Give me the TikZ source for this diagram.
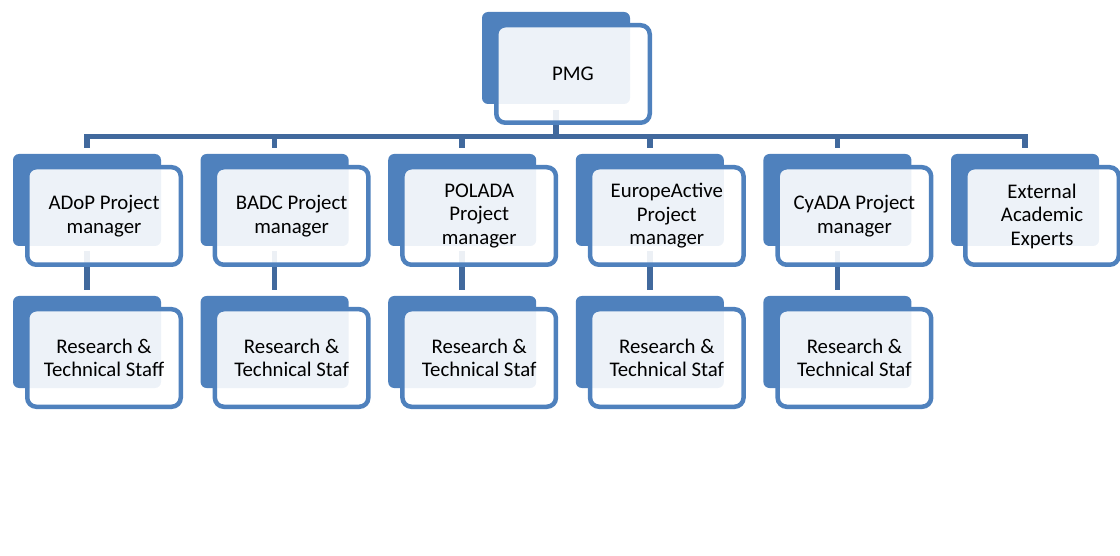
\documentclass[tikz,border=0pt]{standalone}
\usepackage{fontspec}
\setmainfont{Carlito}
\definecolor{accent}{HTML}{4F81BD}
\definecolor{linkblue}{HTML}{41699D}
\begin{document}
\begin{tikzpicture}[x=1pt,y=-1pt,
  backbox/.style={fill=accent, rounded corners=6pt, minimum width=148pt,
    minimum height=92pt, inner sep=0pt},
  frontbox/.style={draw=accent, line width=4.5pt, fill=white, fill opacity=0.9,
    text opacity=1, rounded corners=9pt, minimum width=153.5pt,
    minimum height=97.5pt, inner sep=0pt, align=center, text=black,
    font=\fontsize{20.8}{23.5}\selectfont},
  link/.style={draw=linkblue, line width=5.5pt}]
\useasboundingbox (0,0) rectangle (1120,556);

% back panels
\node[backbox] (pmgb) at (556,58) {};
\foreach \n/\x in {adop/13,badc/200.6,polada/388.2,europe/575.8,cyada/763.4,extern/951}{
  \node[backbox] (\n b) at (\x+74,200) {};
}
\foreach \n/\x in {adop/13,badc/200.6,polada/388.2,europe/575.8,cyada/763.4}{
  \node[backbox] (\n rb) at (\x+74,342) {};
}

% connectors
\coordinate (bar) at (556,136.5);
\draw[link] ([yshift=-6pt]pmgb.south) -- (bar);
\draw[link] ([yshift=6pt]adopb.north) |- (bar) -| ([yshift=6pt]externb.north);
\foreach \n in {badc,polada,europe,cyada}{
  \draw[link] (bar -| \n b.north) -- ([yshift=6pt]\n b.north);
}
\foreach \n in {adop,badc,polada,europe,cyada}{
  \draw[link] ([yshift=-5pt]\n b.south) -- ([yshift=6pt]\n rb.north);
}

% front panels with labels
\node[frontbox] (pmg) at (573,74) {PMG};
\node[frontbox] (adop) at (104,216) {ADoP Project\\manager};
\node[frontbox] (badc) at (291.6,216) {BADC Project\\manager};
\node[frontbox] (polada) at (479.2,216) {POLADA\\Project\\manager};
\node[frontbox] (europe) at (666.8,216) {EuropeActive\\Project\\manager};
\node[frontbox] (cyada) at (854.4,216) {CyADA Project\\manager};
\node[frontbox] (extern) at (1042,216) {External\\Academic\\Experts};
\node[frontbox] (adopr) at (104,358) {Research \&\\Technical Staff};
\node[frontbox] (badcr) at (291.6,358) {Research \&\\Technical Staf};
\node[frontbox] (poladar) at (479.2,358) {Research \&\\Technical Staf};
\node[frontbox] (europer) at (666.8,358) {Research \&\\Technical Staf};
\node[frontbox] (cyadar) at (854.4,358) {Research \&\\Technical Staf};
\end{tikzpicture}
\end{document}
